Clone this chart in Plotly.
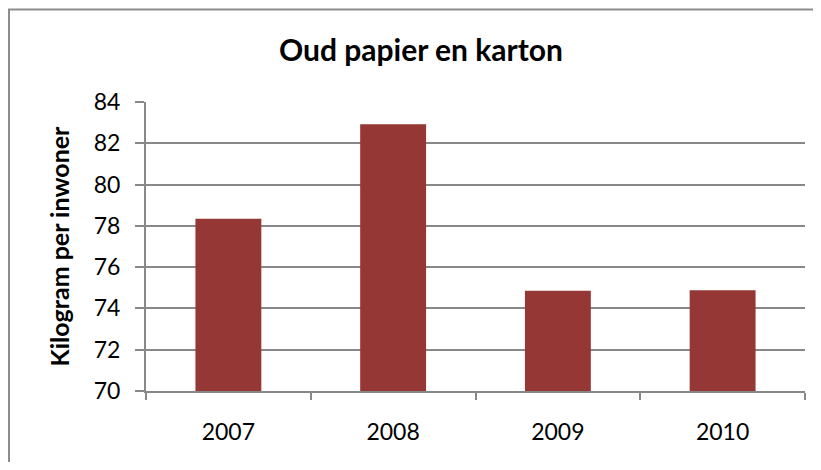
import plotly.graph_objects as go

# data
years = ["2007", "2008", "2009", "2010"]
kg_per_inwoner = [78.35, 82.92, 74.86, 74.88]

title_text = "Oud papier en karton"
y_title = "Kilogram per inwoner"

# the page body adds an 8px margin on every side, so keep the figure inside the window
W, H = 805, 454
margins = {"l": 138, "r": 8, "t": 94, "b": 71}
bar_color = "#953735"
axis_gray = "#888888"
font_family = "Lato, Open Sans, sans-serif"

fig = go.Figure()
fig.add_trace(
    go.Bar(
        x=years,
        y=kg_per_inwoner,
        marker={"color": bar_color, "line": {"width": 0}},
        hovertemplate="%{x}: %{y}<extra></extra>",
    )
)

# plot area size in px, used to place the outer frame in paper units
pw = W - margins["l"] - margins["r"]
ph = H - margins["t"] - margins["b"]


def px_x(x):
    return (x - margins["l"]) / pw


def px_y(y):
    return (H - margins["b"] - y) / ph


# outer chart frame: only the left and top edges are inside the picture
frame = {"color": "#8c8c8c", "width": 2}
fig.add_shape(type="line", xref="paper", yref="paper",
              x0=px_x(1), x1=px_x(1), y0=px_y(1), y1=px_y(H), line=frame, layer="below")
fig.add_shape(type="line", xref="paper", yref="paper",
              x0=px_x(0), x1=px_x(W), y0=px_y(1.5), y1=px_y(1.5), line=frame, layer="below")

fig.update_layout(
    width=W,
    height=H,
    margin=margins,
    paper_bgcolor="white",
    plot_bgcolor="white",
    showlegend=False,
    bargap=0.6,
    font={"family": font_family, "color": "black", "size": 22},
    title={
        "text": f"<b>{title_text}</b>",
        "x": 413 / W,
        "xref": "container",
        "xanchor": "center",
        "y": 1 - 42 / H,
        "yref": "container",
        "yanchor": "middle",
        "font": {"size": 30, "family": font_family},
    },
    xaxis={
        "type": "category",
        "tickson": "boundaries",
        "ticks": "outside",
        "ticklen": 7,
        "tickwidth": 2,
        "tickcolor": axis_gray,
        "showline": True,
        "linecolor": axis_gray,
        "linewidth": 2,
        "showgrid": False,
        "ticklabelstandoff": 19,
        "tickfont": {"size": 23},
    },
    yaxis={
        "range": [70, 84],
        "dtick": 2,
        "ticks": "outside",
        "ticklen": 9,
        "tickwidth": 2,
        "tickcolor": axis_gray,
        "showline": True,
        "linecolor": axis_gray,
        "linewidth": 2,
        "showgrid": True,
        "gridcolor": axis_gray,
        "gridwidth": 1.5,
        "zeroline": False,
        "ticklabelstandoff": 10,
        "tickfont": {"size": 23},
        "title": {
            "text": f"<b>{y_title}</b>",
            "font": {"size": 25},
            "standoff": 17,
        },
    },
)

fig.write_html("out.html")
